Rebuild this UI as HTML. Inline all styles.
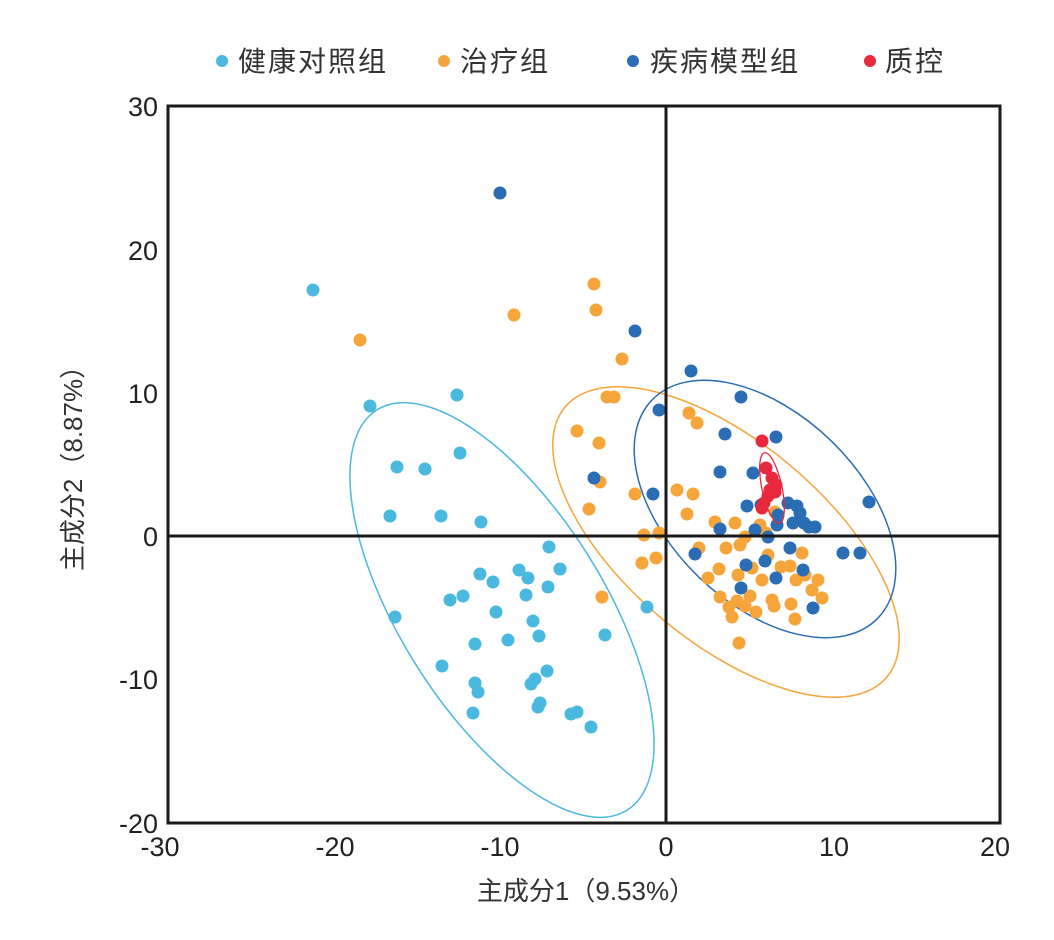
<!DOCTYPE html><html><head><meta charset="utf-8"><style>body{margin:0;background:#fff}</style></head><body>
<svg width="1054" height="935" xmlns="http://www.w3.org/2000/svg" font-family="'Liberation Sans','Noto Sans CJK SC',sans-serif">
<rect width="1054" height="935" fill="#fff"/>
<g font-size="28" fill="#333" letter-spacing="2">
<circle cx="222" cy="61" r="6" fill="#4bb8e0"/><text x="238" y="71">健康对照组</text>
<circle cx="444" cy="61" r="6" fill="#f5a53a"/><text x="460" y="71">治疗组</text>
<circle cx="633" cy="61" r="6" fill="#2a6db5"/><text x="650" y="71">疾病模型组</text>
<circle cx="870" cy="61" r="6" fill="#e8283c"/><text x="885" y="71">质控</text>
</g>
<g fill="none" stroke-width="1.5">
<ellipse cx="502" cy="610" rx="236" ry="102" transform="rotate(58 502 610)" stroke="#4bb8e0"/>
<ellipse cx="726" cy="542" rx="210" ry="100" transform="rotate(40 726 542)" stroke="#f5a53a"/>
<ellipse cx="765" cy="509" rx="157" ry="95" transform="rotate(44 765 509)" stroke="#2a6db5"/>
</g>
<g fill="#4bb8e0">
<circle cx="313" cy="290" r="6.5"/><circle cx="370" cy="406" r="6.5"/><circle cx="457" cy="395" r="6.5"/><circle cx="397" cy="467" r="6.5"/><circle cx="425" cy="469" r="6.5"/><circle cx="460" cy="453" r="6.5"/><circle cx="390" cy="516" r="6.5"/><circle cx="441" cy="516" r="6.5"/><circle cx="481" cy="522" r="6.5"/><circle cx="549" cy="547" r="6.5"/><circle cx="560" cy="569" r="6.5"/><circle cx="395" cy="617" r="6.5"/><circle cx="480" cy="574" r="6.5"/><circle cx="493" cy="582" r="6.5"/><circle cx="519" cy="570" r="6.5"/><circle cx="528" cy="578" r="6.5"/><circle cx="463" cy="596" r="6.5"/><circle cx="450" cy="600" r="6.5"/><circle cx="526" cy="595" r="6.5"/><circle cx="548" cy="587" r="6.5"/><circle cx="496" cy="612" r="6.5"/><circle cx="508" cy="640" r="6.5"/><circle cx="533" cy="621" r="6.5"/><circle cx="539" cy="636" r="6.5"/><circle cx="475" cy="644" r="6.5"/><circle cx="442" cy="666" r="6.5"/><circle cx="547" cy="671" r="6.5"/><circle cx="535" cy="679" r="6.5"/><circle cx="531" cy="684" r="6.5"/><circle cx="475" cy="683" r="6.5"/><circle cx="478" cy="692" r="6.5"/><circle cx="540" cy="703" r="6.5"/><circle cx="538" cy="707" r="6.5"/><circle cx="473" cy="713" r="6.5"/><circle cx="577" cy="712" r="6.5"/><circle cx="571" cy="714" r="6.5"/><circle cx="591" cy="727" r="6.5"/><circle cx="605" cy="635" r="6.5"/><circle cx="647" cy="607" r="6.5"/>
</g>
<g fill="#f5a53a">
<circle cx="360" cy="340" r="6.5"/><circle cx="514" cy="315" r="6.5"/><circle cx="594" cy="284" r="6.5"/><circle cx="596" cy="310" r="6.5"/><circle cx="622" cy="359" r="6.5"/><circle cx="607" cy="397" r="6.5"/><circle cx="614" cy="397" r="6.5"/><circle cx="577" cy="431" r="6.5"/><circle cx="599" cy="443" r="6.5"/><circle cx="589" cy="509" r="6.5"/><circle cx="600" cy="482" r="6.5"/><circle cx="635" cy="494" r="6.5"/><circle cx="644" cy="535" r="6.5"/><circle cx="659" cy="533" r="6.5"/><circle cx="642" cy="563" r="6.5"/><circle cx="656" cy="558" r="6.5"/><circle cx="677" cy="490" r="6.5"/><circle cx="693" cy="494" r="6.5"/><circle cx="689" cy="413" r="6.5"/><circle cx="697" cy="423" r="6.5"/><circle cx="687" cy="514" r="6.5"/><circle cx="602" cy="597" r="6.5"/><circle cx="699" cy="548" r="6.5"/><circle cx="715" cy="522" r="6.5"/><circle cx="726" cy="548" r="6.5"/><circle cx="740" cy="545" r="6.5"/><circle cx="719" cy="569" r="6.5"/><circle cx="708" cy="578" r="6.5"/><circle cx="735" cy="523" r="6.5"/><circle cx="745" cy="537" r="6.5"/><circle cx="760" cy="525" r="6.5"/><circle cx="768" cy="555" r="6.5"/><circle cx="781" cy="567" r="6.5"/><circle cx="738" cy="575" r="6.5"/><circle cx="752" cy="568" r="6.5"/><circle cx="762" cy="580" r="6.5"/><circle cx="720" cy="597" r="6.5"/><circle cx="729" cy="607" r="6.5"/><circle cx="737" cy="601" r="6.5"/><circle cx="750" cy="596" r="6.5"/><circle cx="756" cy="612" r="6.5"/><circle cx="745" cy="606" r="6.5"/><circle cx="772" cy="600" r="6.5"/><circle cx="774" cy="606" r="6.5"/><circle cx="790" cy="566" r="6.5"/><circle cx="796" cy="580" r="6.5"/><circle cx="805" cy="575" r="6.5"/><circle cx="812" cy="590" r="6.5"/><circle cx="818" cy="580" r="6.5"/><circle cx="822" cy="598" r="6.5"/><circle cx="791" cy="604" r="6.5"/><circle cx="795" cy="619" r="6.5"/><circle cx="732" cy="617" r="6.5"/><circle cx="739" cy="643" r="6.5"/><circle cx="802" cy="553" r="6.5"/><circle cx="766" cy="533" r="6.5"/><circle cx="775" cy="512" r="6.5"/>
</g>
<g fill="#2a6db5">
<circle cx="500" cy="193" r="6.5"/><circle cx="635" cy="331" r="6.5"/><circle cx="691" cy="371" r="6.5"/><circle cx="741" cy="397" r="6.5"/><circle cx="659" cy="410" r="6.5"/><circle cx="725" cy="434" r="6.5"/><circle cx="776" cy="437" r="6.5"/><circle cx="720" cy="472" r="6.5"/><circle cx="753" cy="473" r="6.5"/><circle cx="594" cy="478" r="6.5"/><circle cx="653" cy="494" r="6.5"/><circle cx="747" cy="506" r="6.5"/><circle cx="761" cy="505" r="6.5"/><circle cx="788" cy="503" r="6.5"/><circle cx="797" cy="506" r="6.5"/><circle cx="800" cy="513" r="6.5"/><circle cx="778" cy="515" r="6.5"/><circle cx="804" cy="523" r="6.5"/><circle cx="815" cy="527" r="6.5"/><circle cx="809" cy="527" r="6.5"/><circle cx="793" cy="523" r="6.5"/><circle cx="777" cy="525" r="6.5"/><circle cx="720" cy="529" r="6.5"/><circle cx="755" cy="530" r="6.5"/><circle cx="768" cy="537" r="6.5"/><circle cx="746" cy="565" r="6.5"/><circle cx="765" cy="561" r="6.5"/><circle cx="695" cy="554" r="6.5"/><circle cx="790" cy="548" r="6.5"/><circle cx="843" cy="553" r="6.5"/><circle cx="860" cy="553" r="6.5"/><circle cx="869" cy="502" r="6.5"/><circle cx="803" cy="570" r="6.5"/><circle cx="776" cy="578" r="6.5"/><circle cx="741" cy="588" r="6.5"/><circle cx="813" cy="608" r="6.5"/>
</g>
<g fill="#e8283c">
<circle cx="762" cy="441" r="6.5"/><circle cx="766" cy="468" r="6.5"/><circle cx="772" cy="478" r="6.5"/><circle cx="776" cy="485" r="6.5"/><circle cx="770" cy="490" r="6.5"/><circle cx="768" cy="496" r="6.5"/><circle cx="764" cy="503" r="6.5"/><circle cx="762" cy="508" r="6.5"/><circle cx="775" cy="492" r="6.5"/>
</g>
<ellipse cx="772" cy="488" rx="36" ry="10" transform="rotate(78 772 488)" fill="none" stroke="#e8283c" stroke-width="1.3"/>
<g stroke="#1a1a1a" stroke-width="3" fill="none">
<rect x="168" y="106" width="832" height="717"/>
<line x1="666" y1="106" x2="666" y2="823"/>
<line x1="168" y1="536" x2="1000" y2="536"/>
</g>
<g font-size="27" fill="#222" text-anchor="middle">
<text x="160" y="856">-30</text><text x="335" y="856">-20</text><text x="500" y="856">-10</text><text x="666" y="856">0</text><text x="834" y="856">10</text><text x="995" y="856">20</text>
</g>
<g font-size="27" fill="#222" text-anchor="end">
<text x="158" y="116">30</text><text x="158" y="260">20</text><text x="158" y="403">10</text><text x="158" y="546">0</text><text x="158" y="689">-10</text><text x="158" y="833">-20</text>
</g>
<text x="586" y="900" font-size="26" fill="#333" text-anchor="middle">主成分1（9.53%）</text>
<text transform="translate(82 462) rotate(-90)" font-size="26" fill="#333" text-anchor="middle">主成分2（8.87%）</text>
</svg>
</body></html>
